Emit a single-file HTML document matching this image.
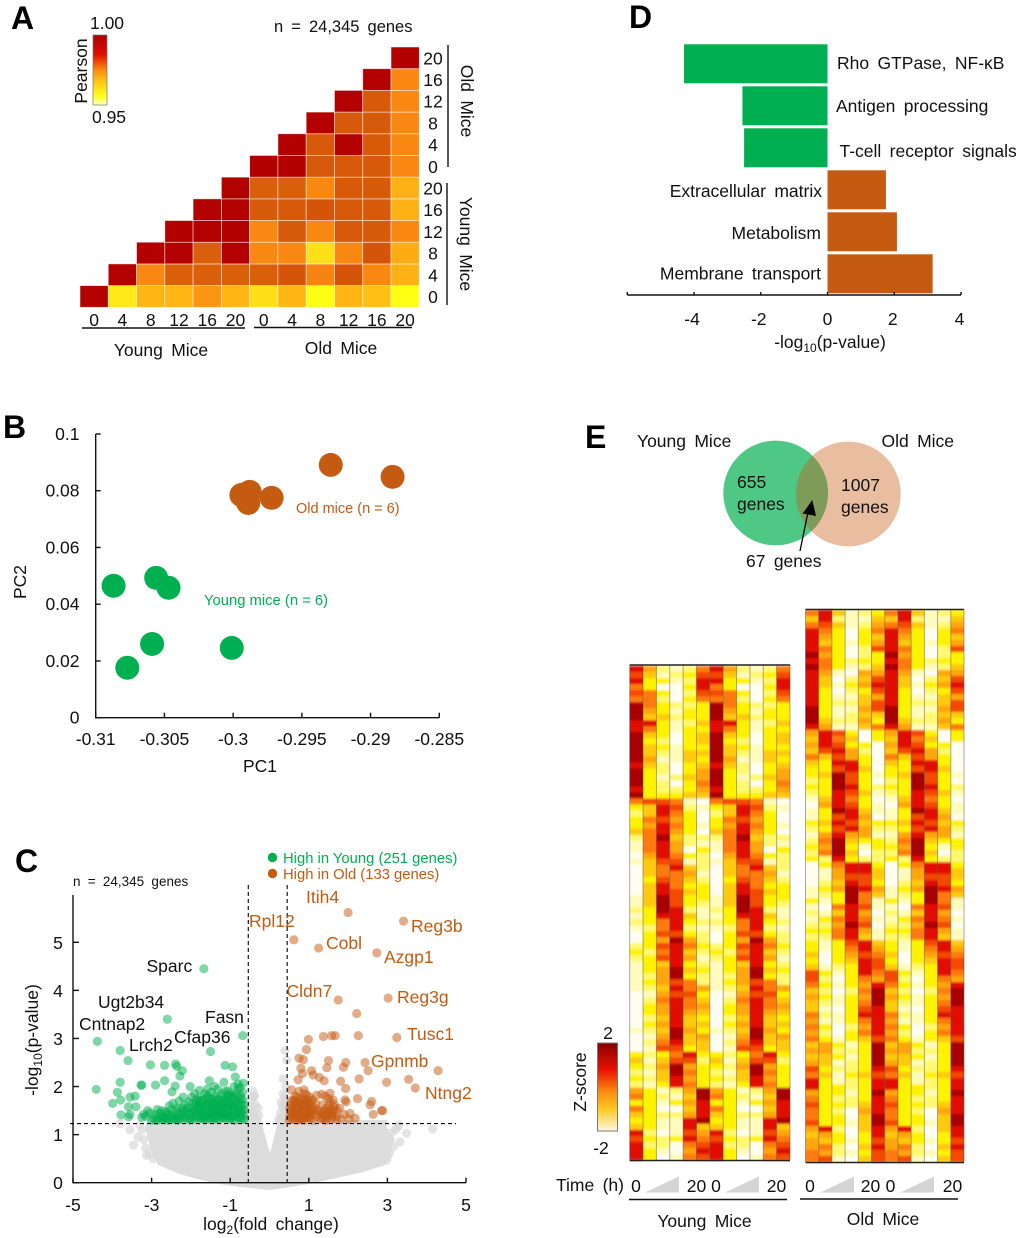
<!DOCTYPE html>
<html lang="en">
<head>
<meta charset="utf-8">
<title>Young vs old mice transcriptome figure</title>
<style>
html,body{margin:0;padding:0;background:#fff;width:1020px;height:1238px;overflow:hidden}
svg{display:block}
text{font-family:"Liberation Sans",Arial,sans-serif;font-size:17.5px;fill:#111;word-spacing:3.5px}
.letter{font-size:32px;font-weight:bold;fill:#000}
.m{text-anchor:middle}
.e{text-anchor:end}
.ax{stroke:#111;stroke-width:1.4;fill:none}
.og{fill:#c55a11}
.gr{fill:#00b050}
.tight{word-spacing:0}
</style>
</head>
<body>
<svg id="fig" xmlns="http://www.w3.org/2000/svg" width="1020" height="1238" viewBox="0 0 1020 1238">
<defs>
<linearGradient id="pearsonGrad" x1="0" y1="0" x2="0" y2="1">
<stop offset="0" stop-color="#a80000"/><stop offset=".28" stop-color="#e01000"/><stop offset=".5" stop-color="#fb8a10"/><stop offset=".7" stop-color="#ffd015"/><stop offset=".88" stop-color="#ffff20"/><stop offset="1" stop-color="#ffffc0"/>
</linearGradient>
<linearGradient id="zGrad" x1="0" y1="0" x2="0" y2="1">
<stop offset="0" stop-color="#8b0000"/><stop offset=".3" stop-color="#e81000"/><stop offset=".55" stop-color="#fb8a10"/><stop offset=".75" stop-color="#ffc820"/><stop offset="1" stop-color="#fff8e0"/>
</linearGradient>
<filter id="heatBlur" filterUnits="userSpaceOnUse" x="600" y="590" width="400" height="600"><feGaussianBlur stdDeviation="0 1"/></filter>
</defs>

<text class="letter" x="11" y="29">A</text>
<text class="letter" x="3" y="438">B</text>
<text class="letter" x="15" y="872">C</text>
<text class="letter" x="629" y="28">D</text>
<text class="letter" x="585" y="448">E</text>

<!-- Panel A static -->
<g id="panelA"></g>
<rect x="93" y="35" width="14" height="70" fill="url(#pearsonGrad)" stroke="#777" stroke-width=".7"/>
<text class="m" x="107" y="29">1.00</text>
<text class="m" x="109" y="123">0.95</text>
<text class="m" transform="translate(87,71) rotate(-90)">Pearson</text>
<text x="274" y="32" style="font-size:16.500px">n = 24,345 genes</text>
<line class="ax" x1="448" y1="45" x2="448" y2="167"/>
<line class="ax" x1="447" y1="183" x2="447" y2="305"/>
<line class="ax" x1="82" y1="328" x2="245" y2="328"/>
<line class="ax" x1="254" y1="327.500" x2="412" y2="327.500"/>
<text class="m" transform="translate(461,101) rotate(90)">Old Mice</text>
<text class="m" transform="translate(460,244) rotate(90)">Young Mice</text>
<text class="m" x="161" y="356">Young Mice</text>
<text class="m" x="341" y="354">Old Mice</text>

<!-- Panel B static -->
<g id="panelB"></g>
<text class="m" x="260" y="772">PC1</text>
<text class="m" transform="translate(26,582) rotate(-90)">PC2</text>
<text class="og tight" x="296" y="513" style="font-size:14.500px">Old mice (n = 6)</text>
<text class="gr tight" x="204" y="605" style="font-size:14.800px">Young mice (n = 6)</text>

<!-- Panel C static -->
<g id="panelC"></g>
<circle cx="272.500" cy="857.500" r="4.700" fill="#00b050"/>
<circle cx="272.500" cy="873.500" r="4.700" fill="#c55a11"/>
<text class="gr tight" x="283" y="863" style="font-size:14.800px">High in Young (251 genes)</text>
<text class="og tight" x="283" y="879" style="font-size:14.800px">High in Old (133 genes)</text>
<text x="73" y="886" style="font-size:13.500px">n = 24,345 genes</text>
<text class="m" x="271" y="1230">log<tspan dy="4" style="font-size:12px">2</tspan><tspan dy="-4">(fold change)</tspan></text>
<text class="m" transform="translate(38,1040) rotate(-90)">-log<tspan dy="4" style="font-size:12px">10</tspan><tspan dy="-4">(p-value)</tspan></text>
<g>
<text x="146.500" y="972">Sparc</text>
<text x="98" y="1008">Ugt2b34</text>
<text x="79" y="1030">Cntnap2</text>
<text x="129" y="1051">Lrch2</text>
<text x="174" y="1043">Cfap36</text>
<text x="205" y="1023">Fasn</text>
</g>
<g>
<text class="og" x="306" y="903">Itih4</text>
<text class="og" x="249" y="927">Rpl12</text>
<text class="og" x="411" y="932">Reg3b</text>
<text class="og" x="326" y="949">Cobl</text>
<text class="og" x="384" y="963">Azgp1</text>
<text class="og" x="286.500" y="997">Cldn7</text>
<text class="og" x="397" y="1003">Reg3g</text>
<text class="og" x="407" y="1040">Tusc1</text>
<text class="og" x="371" y="1067">Gpnmb</text>
<text class="og" x="425" y="1099">Ntng2</text>
</g>

<!-- Panel D static -->
<g id="panelD"></g>
<text class="m" x="830" y="348">-log<tspan dy="4" style="font-size:12px">10</tspan><tspan dy="-4">(p-value)</tspan></text>

<!-- Panel E static -->
<g>
<circle cx="775.700" cy="493" r="52.400" fill="#00b050" fill-opacity=".69"/>
<circle cx="848.300" cy="494" r="52.400" fill="#c55a11" fill-opacity=".4"/>
<text x="637" y="447">Young Mice</text>
<text x="881.500" y="447">Old Mice</text>
<text x="737" y="488">655</text>
<text x="737" y="510">genes</text>
<text x="841" y="491">1007</text>
<text x="841" y="513">genes</text>
<text x="746" y="567">67 genes</text>
<line x1="800" y1="551" x2="808" y2="512" stroke="#000" stroke-width="1.300"/>
<polygon points="812.300,500 802.700,513.500 816,516" fill="#000"/>
</g>
<g id="panelE"></g>
<rect x="597.500" y="1043" width="20" height="88" fill="url(#zGrad)" stroke="#777" stroke-width="1"/>
<text class="m" x="608" y="1039">2</text>
<text class="m" x="601" y="1154">-2</text>
<text class="m" transform="translate(586,1082) rotate(-90)">Z-score</text>
<text x="556" y="1191">Time (h)</text>
<g>
<text class="m" x="636" y="1192">0</text>
<polygon points="645,1192.500 679,1192.500 679,1176.500" fill="#d4d4d4"/>
<text class="m" x="696.500" y="1192">20</text>
<text class="m" x="716" y="1192">0</text>
<polygon points="725,1192.500 759,1192.500 759,1176.500" fill="#d4d4d4"/>
<text class="m" x="776.500" y="1192">20</text>
<line class="ax" x1="629" y1="1199.500" x2="787" y2="1199.500"/>
<text class="m" x="704.500" y="1227">Young Mice</text>
</g>
<g>
<text class="m" x="810" y="1192">0</text>
<polygon points="820,1192.500 854,1192.500 854,1176.500" fill="#d4d4d4"/>
<text class="m" x="870.500" y="1192">20</text>
<text class="m" x="890.500" y="1192">0</text>
<polygon points="900,1192.500 934,1192.500 934,1176.500" fill="#d4d4d4"/>
<text class="m" x="952.500" y="1192">20</text>
<line class="ax" x1="800" y1="1199" x2="958" y2="1199"/>
<text class="m" x="883" y="1225">Old Mice</text>
</g>
</svg>

<script>
/* ---------- Panel A data ---------- */
const pearsonHours = [0,4,8,12,16,20,0,4,8,12,16,20];
const pearsonRowHours = [0,4,8,12,16,20,0,4,8,12,16,20];
const pearsonRows = [
 [1,.955,.965,.965,.972,.965,.957,.965,.95,.965,.963,.95],
 [null,1,.975,.984,.984,.984,.984,.986,.976,.986,.975,.966],
 [null,null,1,1,.984,1,.975,.975,.957,.975,.986,.967],
 [null,null,null,1,1,1,.975,.985,.975,.985,.985,.975],
 [null,null,null,null,1,1,.985,.985,.986,.985,.985,.966],
 [null,null,null,null,null,1,.984,.984,.975,.985,.985,.966],
 [null,null,null,null,null,null,1,1,.985,.985,.985,.975],
 [null,null,null,null,null,null,null,1,.985,1,.985,.975],
 [null,null,null,null,null,null,null,null,1,.985,.985,.975],
 [null,null,null,null,null,null,null,null,null,1,.985,.975],
 [null,null,null,null,null,null,null,null,null,null,1,.975],
 [null,null,null,null,null,null,null,null,null,null,null,1]
];
const pearsonLevels = [.95,.957,.965,.975,.985,1];
const pearsonColors = [[255,255,20],[255,224,24],[255,181,20],[249,136,19],[214,90,10],[179,0,0]];

/* ---------- Panel B data ---------- */
const pcaTicksX = [-0.31,-0.305,-0.3,-0.295,-0.29,-0.285];
const pcaTicksY = [0,0.02,0.04,0.06,0.08,0.1];
const youngPC1 = [-0.3087,-0.3056,-0.3047,-0.3059,-0.3077,-0.3001];
const youngPC2 = [0.0465,0.0493,0.0458,0.026,0.0176,0.0246];
const oldPC1 = [-0.2929,-0.2884,-0.2994,-0.2988,-0.2989,-0.2972];
const oldPC2 = [0.0891,0.0849,0.0785,0.0796,0.0757,0.0775];

/* ---------- Panel C data ---------- */
const volcanoTicksX = [-5,-3,-1,1,3,5];
const volcanoTicksY = [0,1,2,3,4,5];
const fcCutoffLow = -0.54;
const fcCutoffHigh = 0.45;
const pCutoff = 1.23;
const greyEnvelopeFc = [-3.05,-3.1,-2.96,-2.79,-2.28,-1.44,-0.83,0,0.83,1.6,2.3,2.9,3.12,2.9,2.95,0.27,0.02,-0.27];
const greyEnvelopeP = [1.25,1.16,0.68,0.41,0.23,0.05,-0.03,-0.1,0,0.13,0.26,0.41,0.89,1.16,1.25,1.25,0.4,1.25];
const greyFc = [
 -3.46,-3.13,3.49,4.15,3.32,3.1,2.98,2.73,-3.55,-3.8,
 0.39,0.35,0.44,0.39,0.35,-0.41,-0.45,-0.5,0.3,-0.37,
 -3.3,-3.2,3.25,-0.42,0.37,0.42,
 -0.48,-0.44,-0.4,-0.36,-0.32,-0.28,-0.46,-0.38,-0.3,-0.42,
 0.24,0.28,0.32,0.36,0.4,0.42,0.26,0.34,0.38,0.3,
 -3.25,-3.35,-3.15,-3.05,-2.95,3.05,3.15,3.2,3.3,3.0
];
const greyP = [
 0.78,0.57,1.03,1.12,0.85,1.03,0.47,0.47,1.1,1.23,
 2.75,2.16,2.55,1.79,1.58,1.79,1.58,1.44,1.3,1.34,
 1.2,0.9,1.15,1.9,1.42,2.0,
 1.3,1.5,1.35,1.62,1.3,1.4,1.72,1.8,1.55,1.45,
 1.32,1.45,1.6,1.35,1.7,1.5,1.3,1.85,1.5,1.68,
 1.1,0.95,0.72,0.6,0.5,0.62,0.75,1.1,1.2,0.55
];
const youngFc = [
 -4.38,-4.41,-1.67,-2.6,-0.68,-1.5,-3.8,-3.6,-3.03,-2.67,
 -2.39,-2.36,-2.22,-2.28,-3.8,-3.87,-3.27,-3.25,-2.9,-2.67,
 -2.4,-2.48,-2.02,-1.13,-0.94,-1.53,-1.16,-0.87,-0.67,-1.4,
 -1.06,-3.99,-3.79,-3.55,-3.42,-3.59,-3.78,-3.59,-3.4,-3.55,
 -3.2,-3.1,-3.05,-2.95,-2.9,-2.85,-2.75,-2.7,-2.6,-2.55,
 -2.5,-2.45,-2.4,-2.35,-2.3,-2.25,-2.2,-2.15,-2.1,-2.05,
 -2.0,-1.95,-1.9,-1.88,-1.85,-1.82,-1.8,-1.78,-1.75,-1.72,
 -1.7,-1.68,-1.65,-1.62,-1.6,-1.58,-1.55,-1.52,-1.5,-1.48,
 -1.45,-1.42,-1.4,-1.38,-1.35,-1.32,-1.3,-1.28,-1.25,-1.22,
 -1.2,-1.18,-1.15,-1.12,-1.1,-1.08,-1.05,-1.02,-1.0,-0.98,
 -0.95,-0.92,-0.9,-0.88,-0.85,-0.82,-0.8,-0.78,-0.75,-0.72,
 -0.7,-0.68,-0.66,-0.65,-0.64,-0.75,-0.8,-0.9,-1.0,-1.1,
 -1.2,-1.3,-1.4,-1.5,-1.6,-1.7,-1.8,-1.9,-1.75,-1.65,
 -1.55,-1.45,-1.35,-1.25,-1.15,-1.05,-0.95,-0.85,-0.75,-0.7,
 -2.9,-2.65,-2.35,-2.2,-2.6,-2.15,-1.95,-2.0,-1.98,-2.3,
 -1.88,-1.84,-1.8,-1.76,-1.72,-1.68,-1.64,-1.6,-1.56,-1.52,
 -1.48,-1.44,-1.4,-1.36,-1.32,-1.28,-1.24,-1.2,-1.16,-1.12,
 -1.08,-1.04,-1,-0.96,-0.92,-0.88,-0.84,-0.8,-0.76,-0.72,
 -0.68,-0.66,-0.7,-0.74,-0.78,-0.82,-0.86,-0.9,-0.94,-0.98,
 -1.02,-1.06,-1.1,-1.14,-1.18,-1.22,-1.26,-1.3,-1.34,-1.38,
 -1.42,-1.46,-1.5,-1.54,-1.58,-1.62,-1.66,-1.7,-1.74,-1.78,
 -1.82,-1.86,-1.9,-1.94,-1.98,-2.02,-2.06,-2.1,-2.14,-2.18,
 -2.22,-2.26,-2.3,-2.34,-2.38,-2.42,-2.46,-2.5,-2.54,-2.58,
 -2.62,-2.66,-2.7,-2.74,-2.78,-2.82,-2.86,-3.0,-3.15,-3.25
];
const youngLogP = [
 2.94,1.94,4.45,3.40,3.06,2.73,2.75,2.54,2.45,2.44,
 2.47,2.42,2.33,2.22,2.09,1.88,2.03,2.03,2.03,2.12,
 2.01,1.89,2.0,2.44,2.41,2.12,2.09,2.2,2.07,2.0,
 1.91,1.65,1.72,1.78,1.8,1.58,1.41,1.37,1.58,1.42,
 1.42,1.5,1.45,1.35,1.42,1.3,1.5,1.38,1.33,1.6,
 1.4,1.65,1.32,1.55,1.7,1.42,1.78,1.35,1.55,1.68,
 1.32,1.5,1.85,1.62,1.38,1.75,1.48,1.92,1.6,1.33,
 1.72,1.5,1.85,1.4,1.62,1.95,1.75,1.35,1.55,1.88,
 1.45,1.68,1.8,1.32,1.55,1.95,1.4,1.72,1.6,1.85,
 1.35,1.5,1.7,1.9,1.42,1.6,1.78,1.32,1.52,1.66,
 1.4,1.82,1.55,1.3,1.7,1.45,1.95,1.6,1.35,1.75,
 1.5,1.88,1.4,1.62,1.32,1.98,2.05,2.0,1.85,1.62,
 1.6,1.5,1.6,1.45,1.4,1.42,1.6,1.32,1.35,1.32,
 1.62,1.35,1.42,1.5,1.42,1.4,1.62,1.5,1.45,1.32,
 1.3,1.35,1.38,1.5,1.45,1.62,1.65,1.45,1.78,1.32,
 1.45,1.58,1.35,1.7,1.52,1.38,1.62,1.78,1.32,1.68,
 1.42,1.55,1.36,1.7,1.48,1.32,1.8,1.44,1.58,1.34,
 1.72,1.48,1.38,1.76,1.62,1.42,1.84,1.36,1.68,1.44,
 1.72,1.52,1.6,1.82,1.5,1.66,1.38,1.78,1.56,1.34,
 1.62,1.82,1.52,1.72,1.36,1.66,1.44,1.62,1.74,1.5,
 1.34,1.74,1.66,1.46,1.8,1.54,1.36,1.6,1.44,1.7,
 1.56,1.72,1.5,1.38,1.56,1.34,1.44,1.32,1.5,1.4,
 1.55,1.34,1.45,1.3,1.5,1.36,1.32,1.52,1.34,1.42,
 1.3,1.48,1.32,1.34,1.44,1.36,1.52,1.3,1.38,1.36
];
const oldFc = [
 2.0,3.41,0.62,1.25,2.73,1.75,3.02,2.22,1.37,1.58,
 1.67,2.26,3.24,0.99,0.94,0.75,0.86,1.5,1.94,1.88,
 2.43,2.51,4.29,3.54,3.71,2.98,2.28,1.81,1.94,1.46,
 0.8,1.07,0.84,1.11,1.27,1.39,0.73,0.56,0.88,0.95,
 2.24,2.6,2.56,2.64,2.85,2.88,1.92,1.54,1.33,1.5,
 1.62,2.05,2.18,1.2,1.42,
 0.5,0.52,0.55,0.58,0.6,0.62,0.65,0.68,0.7,0.72,
 0.75,0.78,0.8,0.82,0.85,0.88,0.9,0.92,0.95,0.98,
 1.0,1.02,1.05,1.08,1.1,1.12,1.15,1.18,1.2,0.7,
 0.8,0.75,0.85,0.9,0.95,0.65,0.72,0.82,0.92,1.0,
 1.25,1.3,1.35,1.38,1.42,1.45,1.5,1.55,1.58,1.62,
 1.65,1.7,1.72,1.78,1.82,1.9,1.95,2.02,1.6,1.48,
 0.55,1.35,1.45,1.55,
 0.52,0.56,0.6,0.64,0.68,0.72,0.76,0.8,0.84,0.88,
 0.92,0.96,1,1.04,1.08,0.58,0.66,0.74,0.82,0.9,
 0.98,1.06,0.7,0.78,0.86,0.94,0.62,1.02,0.54,1.1,
 1.3,1.4,1.5,1.6,1.7,1.2,1.35,1.45,1.55,1.65
];
const oldLogP = [
 5.62,5.44,5.05,4.88,4.78,3.80,3.84,3.52,3.04,3.06,
 3.06,3.06,3.02,2.98,2.77,2.59,2.56,2.54,2.5,2.4,
 2.5,2.33,2.33,2.15,1.97,2.09,2.16,2.11,1.96,2.39,
 2.38,2.33,2.27,2.24,2.19,2.12,2.14,1.93,1.93,1.82,
 1.75,1.69,1.62,1.42,1.5,1.5,1.72,1.86,1.84,1.75,
 1.72,1.44,1.34,1.82,1.8,
 1.3,1.55,1.7,1.4,1.32,1.6,1.8,1.45,1.3,1.68,
 1.9,1.5,1.35,1.75,1.6,1.3,1.85,1.45,1.7,1.55,
 1.35,1.78,1.6,1.42,1.72,1.3,1.55,1.65,1.38,1.5,
 1.6,1.42,1.45,1.62,1.38,1.42,1.58,1.32,1.52,1.5,
 1.5,1.33,1.62,1.42,1.32,1.55,1.4,1.68,1.33,1.5,
 1.62,1.38,1.5,1.55,1.32,1.42,1.68,1.32,1.38,1.48,
 1.45,1.45,1.3,1.52,
 1.38,1.62,1.48,1.7,1.36,1.56,1.32,1.72,1.5,1.64,
 1.36,1.58,1.66,1.34,1.52,1.34,1.54,1.66,1.42,1.74,
 1.42,1.7,1.78,1.4,1.34,1.46,1.72,1.46,1.52,1.46,
 1.42,1.5,1.6,1.42,1.32,1.5,1.34,1.38,1.46,1.56
];

/* ---------- Panel D data ---------- */
const pathwayNames = ["Rho GTPase, NF-κB","Antigen processing","T-cell receptor signals","Extracellular matrix","Metabolism","Membrane transport"];
const pathwayValues = [-4.3,-2.55,-2.5,1.75,2.08,3.15];
const pathwayTickLabels = [-4,-2,0,2,4];

/* ---------- Panel E data: z-score levels (0 lowest – 9 highest), one array per time column ---------- */
const zLevelColors = ["#fffdf0","#fffbbc","#fff870","#fff200","#ffc90e","#ffa50a","#ff7a0a","#f44804","#e00a00","#a80000"];
const youngHeat0 = [8,7,8,6,7,6,9,9,9,8,8,9,9,9,9,9,8,9,9,9,8,9,6,3,2,3,3,4,2,1,1,0,1,0,0,0,0,0,1,1,2,1,2,1,0,0,2,3,2,1,1,1,1,1,0,0,0,0,0,0,1,0,0,0,3,4,3,2,3,2,5,6,3,6,4,3,4,8,7,8,8,8];
const youngHeat1 = [5,4,3,3,6,6,6,5,4,8,6,4,3,4,4,5,4,3,3,3,3,3,7,4,4,6,5,6,6,6,6,5,4,4,4,3,4,4,4,4,3,3,3,2,3,3,3,2,3,3,3,2,3,2,1,2,3,3,2,3,2,1,2,1,2,1,2,1,2,1,3,3,3,3,3,3,3,2,3,2,3,3];
const youngHeat2 = [2,1,3,0,3,2,3,3,4,3,3,3,2,3,2,1,2,2,1,2,2,3,7,8,8,7,8,8,9,8,8,8,7,6,6,7,8,8,9,9,9,8,6,6,7,5,7,6,7,4,5,5,5,4,5,6,5,5,4,5,4,5,6,7,3,4,5,4,4,3,1,2,1,0,2,1,1,0,2,2,1,0];
const youngHeat3 = [1,2,1,0,0,0,2,1,2,1,1,0,0,1,1,1,0,0,2,0,2,3,6,7,6,5,6,5,4,5,5,6,7,8,6,6,6,7,7,7,8,8,8,8,7,9,8,8,8,8,9,9,7,8,7,8,8,8,8,8,9,9,8,7,6,7,9,9,8,8,2,1,3,0,2,1,1,1,3,0,0,1];
const youngHeat4 = [2,3,2,3,2,3,2,3,3,2,3,3,3,3,4,4,3,3,4,3,3,4,1,2,3,3,3,3,2,2,0,3,1,4,5,4,3,4,3,3,2,4,3,2,3,5,6,4,5,3,4,3,6,6,7,6,6,5,4,4,5,4,4,3,8,7,5,6,5,6,5,4,5,4,5,8,8,7,8,6,5,6];
const youngHeat5 = [6,7,8,8,7,6,3,3,3,4,3,4,4,3,4,3,4,5,5,6,5,4,0,1,0,0,1,0,2,1,3,2,2,2,1,2,3,3,3,2,1,1,2,1,2,2,3,2,1,2,3,2,2,5,3,4,5,4,3,4,3,5,4,4,3,2,3,3,3,3,9,9,8,8,8,9,4,5,6,7,8,7];
const oldHeat0 = [6,4,6,8,8,8,8,9,8,9,8,8,8,8,8,8,9,9,9,8,5,4,5,4,6,4,3,3,2,3,2,1,0,1,1,3,2,1,2,3,2,3,0,0,0,0,1,1,3,1,2,1,2,3,2,3,3,4,3,4,7,7,6,4,5,4,4,6,5,6,5,6,4,5,4,5,7,6,8,8,5,6,7,6,6,7,5,4,5,5,6,6];
const oldHeat1 = [8,8,7,6,5,4,6,5,6,6,5,4,4,3,3,3,3,3,4,5,8,8,8,7,4,3,3,4,3,3,3,4,5,3,3,4,3,5,6,5,6,2,3,1,1,2,3,2,1,0,1,3,2,3,2,1,1,0,0,1,3,2,3,2,3,2,1,2,1,3,2,3,5,5,4,4,3,4,3,3,3,3,3,3,3,3,8,5,4,6,5,7];
const oldHeat2 = [4,2,4,3,3,3,3,3,3,3,1,0,1,0,1,2,1,1,2,1,7,6,7,8,7,8,7,9,9,9,8,8,8,9,7,8,7,8,9,9,9,8,6,5,5,4,5,3,3,6,4,6,5,6,6,3,3,3,3,2,1,0,1,0,1,1,0,1,1,0,0,1,3,2,3,1,2,1,1,3,3,2,3,2,3,3,2,3,3,2,2,1];
const oldHeat3 = [1,1,1,0,0,1,0,0,2,1,0,2,3,2,1,2,1,2,2,1,3,4,3,5,5,8,8,7,7,8,7,6,7,8,8,7,8,5,4,3,4,3,8,8,7,8,9,9,9,8,8,8,9,8,8,7,6,5,4,3,3,3,3,2,3,3,3,3,3,2,3,3,1,2,1,2,2,3,2,2,1,2,2,0,0,1,0,0,1,0,1,0];
const oldHeat4 = [2,1,2,3,3,3,2,2,3,2,5,4,5,3,4,4,5,4,5,4,0,0,3,2,3,3,4,3,3,3,4,3,3,4,5,4,5,5,3,1,0,2,8,8,7,7,8,6,6,7,5,6,7,5,4,8,8,7,8,8,8,6,5,6,5,6,7,8,6,5,6,4,3,3,3,3,3,4,3,3,3,3,4,5,4,4,4,3,3,4,3,4];
const oldHeat5 = [3,4,5,6,4,5,7,3,3,4,5,7,8,7,5,7,7,4,3,6,3,3,0,0,0,0,0,1,0,2,1,0,1,1,0,3,2,1,3,3,2,2,3,4,4,3,5,4,1,1,0,1,0,1,1,4,5,6,7,7,6,5,8,9,9,9,8,8,8,8,8,7,9,9,9,9,8,7,8,8,9,8,8,8,9,9,8,8,7,8,7,7];

/* ---------- helpers ---------- */
const NS = "http://www.w3.org/2000/svg";
function mk(parent, tag, props, txt){
  const n = document.createElementNS(NS, tag);
  for (const k in props) n.setAttribute(k, props[k]);
  if (txt !== undefined) n.textContent = txt;
  parent.appendChild(n);
  return n;
}
function linear(d0, d1, r0, r1){ return v => r0 + (v - d0) * (r1 - r0) / (d1 - d0); }

/* ---------- Panel A ---------- */
(function(){
  const g = document.getElementById("panelA");
  const colX = linear(0, 12, 80, 419.3);
  const rowY = linear(0, 12, 307.3, 47);
  function pearsonColor(v){
    let i = 0;
    while (i < pearsonLevels.length - 2 && v > pearsonLevels[i + 1]) i++;
    const t = Math.max(0, Math.min(1, (v - pearsonLevels[i]) / (pearsonLevels[i + 1] - pearsonLevels[i])));
    const a = pearsonColors[i], b = pearsonColors[i + 1];
    return "rgb(" + a.map((c, k) => Math.round(c + (b[k] - c) * t)).join(",") + ")";
  }
  pearsonRows.forEach((row, r) => {
    row.forEach((v, c) => {
      if (v === null) return;
      const cell = mk(g, "rect", {x: colX(c), y: rowY(r + 1), width: colX(c + 1) - colX(c), height: rowY(r) - rowY(r + 1), fill: pearsonColor(v), stroke: "#fff", "stroke-opacity": .6, "stroke-width": .8});
      
      
    });
  });
  pearsonHours.forEach((h, c) => {
    const t = mk(g, "text", {class: "m", x: colX(c + .5), y: 326}, h);
    
    
  });
  pearsonRowHours.forEach((h, r) => {
    const t = mk(g, "text", {class: "m", x: 433, y: rowY(r + .5) + 6.5}, h);
    
    
  });
})();

/* ---------- Panel B ---------- */
(function(){
  const g = document.getElementById("panelB");
  const x = linear(-0.31, -0.285, 95.7, 439.3);
  const y = linear(0, 0.1, 717.7, 434);
  const axis = mk(g, "path", {class: "ax", d: "M" + x(-0.31) + " " + y(0.1) + "V" + y(0) + "H" + x(-0.285)});
  
  
  pcaTicksX.forEach(v => {
    const tk = mk(g, "line", {class: "ax", x1: x(v), x2: x(v), y1: y(0), y2: y(0) - 5});
    
    
    const t = mk(g, "text", {class: "m", x: x(v), y: 745}, v);
    
    
  });
  pcaTicksY.forEach(v => {
    const tk = mk(g, "line", {class: "ax", x1: x(-0.31), x2: x(-0.31) + 5, y1: y(v), y2: y(v)});
    
    
    const t = mk(g, "text", {class: "e", x: 79.5, y: y(v) + 6}, v);
    
    
  });
  youngPC1.forEach((v, i) => {
    const p = mk(g, "circle", {cx: x(v), cy: y(youngPC2[i]), r: 12, fill: "#00b050"});
    
    
  });
  oldPC1.forEach((v, i) => {
    const p = mk(g, "circle", {cx: x(v), cy: y(oldPC2[i]), r: 12, fill: "#c55a11"});
    
    
  });
})();

/* ---------- Panel C ---------- */
(function(){
  const g = document.getElementById("panelC");
  const x = linear(-5, 5, 73, 466);
  const y = linear(0, 5, 1182.7, 942.3);
  greyFc.forEach((v, i) => {
    const p = mk(g, "circle", {cx: x(v), cy: y(greyP[i]), r: 4.6, fill: "#d8d8d8", "fill-opacity": .7});
    
    
  });
  const env = mk(g, "polygon", {points: greyEnvelopeFc.map((v, i) => x(v) + "," + y(greyEnvelopeP[i])).join(" "), fill: "#dcdcdc", stroke: "#dcdcdc", "stroke-width": 5, "stroke-linejoin": "round"});
  
  
  youngFc.forEach((v, i) => {
    const p = mk(g, "circle", {cx: x(v), cy: y(youngLogP[i]), r: 4.6, fill: "#00b050", "fill-opacity": .5});
    
    
  });
  oldFc.forEach((v, i) => {
    const p = mk(g, "circle", {cx: x(v), cy: y(oldLogP[i]), r: 4.6, fill: "#c55a11", "fill-opacity": .5});
    
    
  });
  const axis = mk(g, "path", {class: "ax", d: "M" + x(-5) + " 895V" + y(0) + "H" + x(5)});
  
  
  volcanoTicksX.forEach(v => {
    const tk = mk(g, "line", {class: "ax", x1: x(v), x2: x(v), y1: y(0), y2: y(0) - 5});
    
    
    const t = mk(g, "text", {class: "m", x: x(v), y: 1211}, v);
    
    
  });
  volcanoTicksY.forEach(v => {
    const tk = mk(g, "line", {class: "ax", x1: x(-5), x2: x(-5) + 6, y1: y(v), y2: y(v)});
    
    
    const t = mk(g, "text", {class: "m", x: 58, y: y(v) + 6.5}, v);
    
    
  });
  [fcCutoffLow, fcCutoffHigh].forEach(v => {
    const l = mk(g, "line", {x1: x(v), x2: x(v), y1: 885, y2: y(0), stroke: "#000", "stroke-width": 1.1, "stroke-dasharray": "4 3"});
    
    
  });
  const h = mk(g, "line", {x1: 70, x2: 456, y1: y(pCutoff), y2: y(pCutoff), stroke: "#000", "stroke-width": 1.1, "stroke-dasharray": "4 3"});
  
  
})();

/* ---------- Panel D ---------- */
(function(){
  const g = document.getElementById("panelD");
  const x = linear(-6, 4, 627.3, 961);
  const barTops = linear(0, 6, 44, 296);
  const labelPos = [[837,69,""],[836,112,""],[839.5,157,""],[822,197,"e"],[821,239,"e"],[821,279.5,"e"]];
  pathwayValues.forEach((v, i) => {
    const top = barTops(i) + .3;
    const left = Math.min(x(0), x(v)), w = Math.abs(x(v) - x(0));
    const b = mk(g, "rect", {x: left, y: top, width: w, height: 39, fill: v < 0 ? "#00b050" : "#c55a11"});
    
    
    const t = mk(g, "text", {class: labelPos[i][2], x: labelPos[i][0], y: labelPos[i][1]}, pathwayNames[i]);
    
    
  });
  const axis = mk(g, "line", {class: "ax", x1: x(-6), x2: x(4), y1: 295, y2: 295, "stroke-width": 1.5});
  
  
  [-6,-4,-2,0,2,4].forEach(v => {
    const tk = mk(g, "line", {class: "ax", x1: x(v), x2: x(v), y1: 295, y2: 292});
    
    
  });
  pathwayTickLabels.forEach(v => {
    const t = mk(g, "text", {class: "m", x: x(v) - (v < 0 ? 2 : 0) - (v > 0 ? 1.5 : 0), y: 325}, v);
    
    
  });
})();

/* ---------- Panel E ---------- */
(function(){
  const g = document.getElementById("panelE");
  const youngCols = [youngHeat0, youngHeat1, youngHeat2, youngHeat3, youngHeat4, youngHeat5];
  const oldCols = [oldHeat0, oldHeat1, oldHeat2, oldHeat3, oldHeat4, oldHeat5];
  function heat(cols, x0, x1, y0, y1, topY, name){
    const colW = (x1 - x0) / 12;
    const cellsGroup = mk(g, "g", {filter: "url(#heatBlur)"});
    
    
    for (let rep = 0; rep < 2; rep++) {
      cols.forEach((col, c) => {
        const left = x0 + (rep * 6 + c) * colW;
        const rowH = (y1 - y0) / col.length;
        col.forEach((lvl, r) => {
          const cell = mk(cellsGroup, "rect", {x: left, y: y0 + r * rowH, width: colW, height: rowH + .4, fill: zLevelColors[lvl]});
          
          
        });
      });
    }
    for (let i = 0; i <= 12; i++) {
      const s = mk(g, "line", {x1: x0 + i * colW, x2: x0 + i * colW, y1: topY, y2: y1, stroke: "#555", "stroke-opacity": .5, "stroke-width": 1});
      
      
    }
    const top = mk(g, "line", {x1: x0, x2: x1, y1: topY, y2: topY, stroke: "#222", "stroke-width": 1.5});
    
    
    const bot = mk(g, "line", {x1: x0, x2: x1, y1: y1 + .5, y2: y1 + .5, stroke: "#222", "stroke-width": 1.5});
    
    
  }
  heat(youngCols, 629.7, 790, 666, 1160, 665, 'young-heatmap');
  heat(oldCols, 805.5, 964, 610, 1162, 609.5, 'old-heatmap');
})();
</script>
</body>
</html>
